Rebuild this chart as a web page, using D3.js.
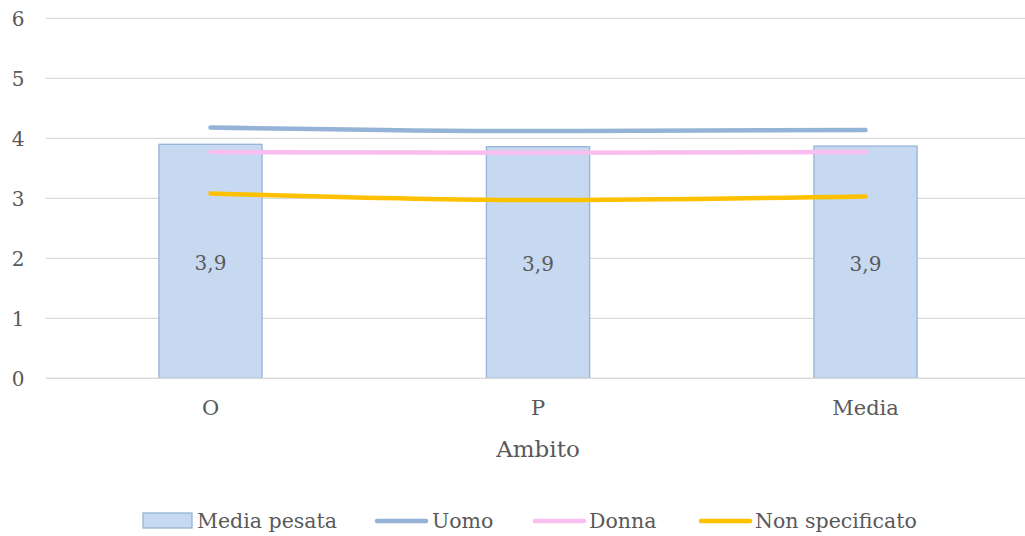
<!DOCTYPE html>
<html><head><meta charset="utf-8">
<script src="https://cdn.jsdelivr.net/npm/d3@7"></script>
<style>body{margin:0;background:#fff}svg{display:block}text{font-family:"DejaVu Serif","Liberation Serif",serif;fill:#595959}</style>
</head><body><svg id="c" width="1025" height="536"></svg>
<script>
const categories = ["O", "P", "Media"];
const mediaPesata = [3.9, 3.86, 3.87];
const barLabels = ["3,9", "3,9", "3,9"];
const uomo = [4.18, 4.12, 4.14];
const donna = [3.77, 3.76, 3.77];
const nonSpecificato = [3.08, 2.97, 3.03];
const yTicks = [0, 1, 2, 3, 4, 5, 6];
const seriesNames = ["Media pesata", "Uomo", "Donna", "Non specificato"];
const colors = {bar: "#c6d9f0", barStroke: "#95b3d7", uomo: "#95b3d7", donna: "#f9bef0", ns: "#ffc000"};

const svg = d3.select("#c");
const x = d3.scaleBand().domain(categories).range([46.75, 1029.25]).padding(0);
const y = d3.scaleLinear().domain([0, 6]).range([378.3, 18.3]);
const barW = x.bandwidth() * 0.315;
const cx = c => x(c) + x.bandwidth() / 2;

// gridlines
svg.append("g").selectAll("line").data(yTicks).join("line")
  .attr("x1", 46).attr("x2", 1025)
  .attr("y1", d => y(d)).attr("y2", d => y(d))
  .attr("stroke", "#d9d9d9").attr("stroke-width", 1.3);

// y axis labels
const yAxis = d3.axisLeft(y).tickValues(yTicks).tickSize(0).tickPadding(0).tickFormat(d3.format("d"));
const ya = svg.append("g").attr("transform", "translate(24.5,0)").call(yAxis);
ya.select(".domain").remove();
ya.selectAll("text").style("font-size", "20px").attr("fill", "#595959").attr("dy", "0.36em").style("font-family", "DejaVu Serif, serif");

// bars
svg.append("g").selectAll("rect").data(categories).join("rect")
  .attr("x", d => cx(d) - barW / 2)
  .attr("y", (d, i) => y(mediaPesata[i]))
  .attr("width", barW)
  .attr("height", (d, i) => y(0) - y(mediaPesata[i]))
  .attr("fill", colors.bar).attr("stroke", colors.barStroke).attr("stroke-width", 1.3);

// baseline
svg.append("line").attr("x1", 46).attr("x2", 1025).attr("y1", y(0)).attr("y2", y(0)).attr("stroke", "#d9d9d9").attr("stroke-width", 1.3);

// bar labels
svg.append("g").selectAll("text").data(categories).join("text")
  .attr("x", d => cx(d))
  .attr("y", (d, i) => (y(mediaPesata[i]) + y(0)) / 2 + 1.5)
  .attr("text-anchor", "middle").attr("dy", "0.35em")
  .style("font-size", "20px").attr("fill", "#404040")
  .text((d, i) => barLabels[i]);

// lines
const line = d3.line().x(d => cx(d.c)).y(d => y(d.v)).curve(d3.curveMonotoneX);
[[uomo, colors.uomo], [donna, colors.donna], [nonSpecificato, colors.ns]].forEach(([vals, col]) => {
  svg.append("path").datum(categories.map((c, i) => ({c, v: vals[i]})))
    .attr("d", line).attr("fill", "none").attr("stroke", col)
    .attr("stroke-width", 4.5).attr("stroke-linecap", "round");
});

// x axis labels
const xAxis = d3.axisBottom(x).tickSize(0).tickPadding(0);
const xa = svg.append("g").attr("transform", "translate(0,400)").call(xAxis);
xa.select(".domain").remove();
xa.selectAll("text").style("font-size", "21px").attr("fill", "#595959").attr("dy", "0.71em").style("font-family", "DejaVu Serif, serif");

// axis title
svg.append("text").attr("x", 538).attr("y", 457).attr("text-anchor", "middle")
  .style("font-size", "23px").text("Ambito");

// legend
const leg = svg.append("g");
const legItems = [
  {name: seriesNames[0], type: "bar", sx: 143, tx: 197},
  {name: seriesNames[1], type: "line", col: colors.uomo, sx: 375, tx: 432},
  {name: seriesNames[2], type: "line", col: colors.donna, sx: 533, tx: 589},
  {name: seriesNames[3], type: "line", col: colors.ns, sx: 699, tx: 755}
];
legItems.forEach(it => {
  if (it.type === "bar") {
    leg.append("rect").attr("x", it.sx).attr("y", 513).attr("width", 49).attr("height", 15)
      .attr("fill", colors.bar).attr("stroke", colors.barStroke).attr("stroke-width", 1.3);
  } else {
    leg.append("line").attr("x1", it.sx + 2).attr("x2", it.sx + 51).attr("y1", 521).attr("y2", 521)
      .attr("stroke", it.col).attr("stroke-width", 4.5).attr("stroke-linecap", "round");
  }
  leg.append("text").attr("x", it.tx).attr("y", 521).attr("dy", "0.35em")
    .style("font-size", "20.5px").text(it.name);
});
</script></body></html>
